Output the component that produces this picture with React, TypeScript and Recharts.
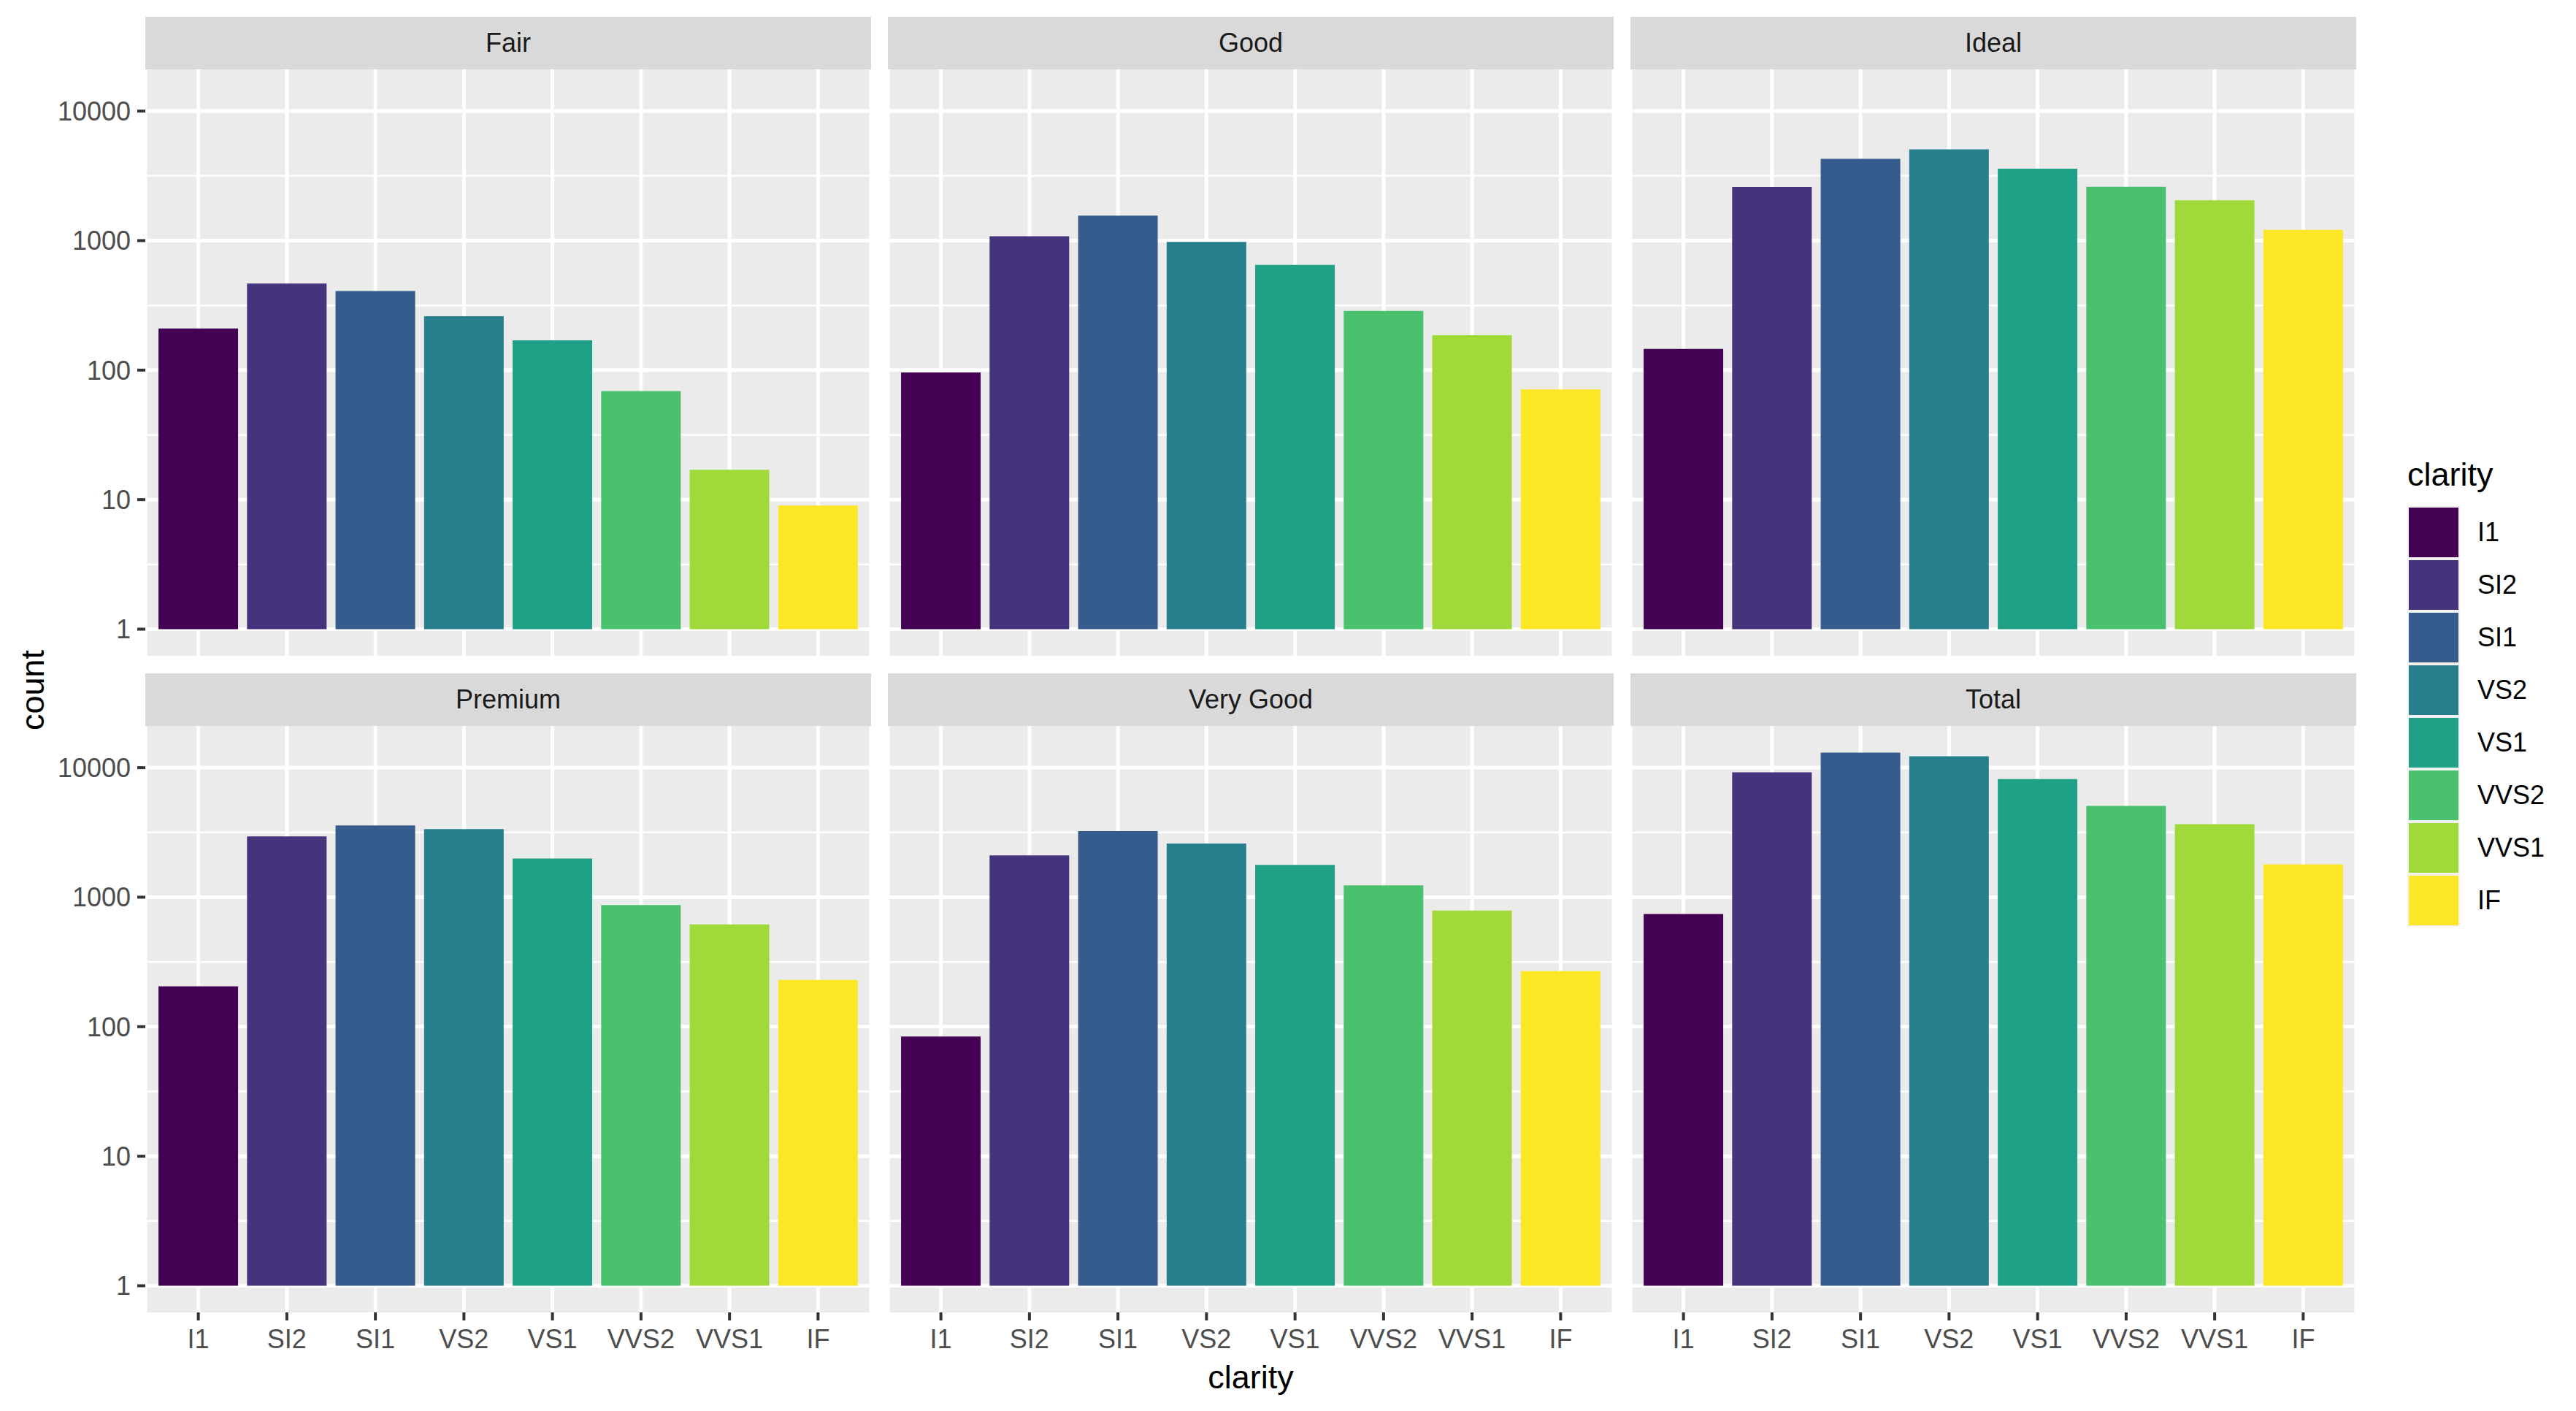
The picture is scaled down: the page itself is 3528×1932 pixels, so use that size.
import React from "react";
import { Bar, BarChart, CartesianGrid, Cell, XAxis, YAxis } from "recharts";

// diamonds: count by cut x clarity
const clarity = ["I1", "SI2", "SI1", "VS2", "VS1", "VVS2", "VVS1", "IF"];
const colors = ["#440154", "#46337E", "#365C8D", "#277F8E", "#1FA187", "#4AC16D", "#9FDA3A", "#FDE725"];

const fair = [210, 466, 408, 261, 170, 69, 17, 9];
const good = [96, 1081, 1560, 978, 648, 286, 186, 71];
const ideal = [146, 2598, 4282, 5071, 3589, 2606, 2047, 1212];
const premium = [205, 2949, 3575, 3357, 1989, 870, 616, 230];
const veryGood = [84, 2100, 3240, 2591, 1775, 1235, 789, 268];
const total = [741, 9194, 13065, 12258, 8171, 5066, 3655, 1790];

const majorTicks = [1, 10, 100, 1000, 10000];
const minorTicks = [3.162, 31.62, 316.2, 3162];
const yDomain = [0.6225, 20988];

const FONT = "'Liberation Sans', Arial, Helvetica, sans-serif";

const PANEL_W = 994;
const PANEL_H = 803;
const STRIP_H = 72;
const colX = [199, 1216, 2233];
const rowStripY = [23, 922];
const Y_AXIS_W = 199;
const X_AXIS_H = 80;

type PanelProps = {
  title: string;
  values: number[];
  col: number;
  row: number;
};

const Panel = ({ title, values, col, row }: PanelProps) => {
  const data = clarity.map((c, i) => ({ clarity: c, count: values[i] }));
  const left = col === 0;
  const bottom = row === 1;
  const panelX = colX[col];
  const panelY = rowStripY[row] + STRIP_H;

  return (
    <>
      <div
        style={{
          position: "absolute",
          left: panelX,
          top: rowStripY[row],
          width: PANEL_W,
          height: STRIP_H,
          background: "#D9D9D9",
          color: "#1A1A1A",
          fontSize: 36,
          lineHeight: STRIP_H + "px",
          textAlign: "center",
        }}
      >
        {title}
      </div>
      <div style={{ position: "absolute", left: left ? panelX - Y_AXIS_W : panelX, top: panelY }}>
        <BarChart
          width={PANEL_W + (left ? Y_AXIS_W : 0)}
          height={PANEL_H + (bottom ? X_AXIS_H : 0)}
          data={data}
          margin={{ top: 0, right: 0, bottom: 0, left: 0 }}
          barCategoryGap="5%"
        >
          <CartesianGrid
            fill="#EBEBEB"
            stroke="#FFFFFF"
            strokeWidth={2.5}
            vertical={false}
            horizontalValues={minorTicks}
          />
          <CartesianGrid stroke="#FFFFFF" strokeWidth={5} horizontalValues={majorTicks} />
          <XAxis
            dataKey="clarity"
            type="category"
            hide={!bottom}
            height={X_AXIS_H}
            padding={{ left: 12, right: 12 }}
            axisLine={false}
            tickSize={11}
            tickMargin={12}
            tickLine={{ stroke: "#333333", strokeWidth: 4 }}
            tick={{ fill: "#4D4D4D", fontSize: 36, fontFamily: FONT }}
            interval={0}
          />
          <YAxis
            type="number"
            scale="log"
            domain={yDomain}
            allowDataOverflow
            ticks={majorTicks}
            hide={!left}
            width={Y_AXIS_W}
            axisLine={false}
            tickSize={11}
            tickMargin={9}
            tickLine={{ stroke: "#333333", strokeWidth: 4 }}
            tick={{ fill: "#4D4D4D", fontSize: 36, fontFamily: FONT }}
            interval={0}
          />
          <Bar dataKey={(d: any) => [1, d.count]} isAnimationActive={false}>
            {data.map((d, i) => (
              <Cell key={d.clarity} fill={colors[i]} />
            ))}
          </Bar>
        </BarChart>
      </div>
    </>
  );
};

const Legend = () => (
  <div style={{ position: "absolute", left: 3297, top: 620 }}>
    <div style={{ fontSize: 45, color: "#000", height: 60, lineHeight: "60px" }}>clarity</div>
    <div style={{ position: "absolute", top: 73 }}>
      {clarity.map((c, i) => (
        <div key={c} style={{ position: "absolute", top: i * 72, left: 0, width: 300, height: 72 }}>
          <div
            style={{
              position: "absolute",
              left: 0,
              top: 0,
              width: 72,
              height: 72,
              background: "#F2F2F2",
            }}
          >
            <div
              style={{
                position: "absolute",
                left: 2,
                top: 2,
                width: 68,
                height: 68,
                background: colors[i],
              }}
            />
          </div>
          <div
            style={{
              position: "absolute",
              left: 96,
              top: 0,
              height: 72,
              lineHeight: "72px",
              fontSize: 36,
              color: "#000",
              whiteSpace: "nowrap",
            }}
          >
            {c}
          </div>
        </div>
      ))}
    </div>
  </div>
);

const App = () => {
  return (
    <div
      style={{
        position: "absolute",
        left: 0,
        top: 0,
        width: 3528,
        height: 1932,
        background: "#FFFFFF",
        fontFamily: FONT,
        overflow: "hidden",
      }}
    >
      <Panel title="Fair" values={fair} col={0} row={0} />
      <Panel title="Good" values={good} col={1} row={0} />
      <Panel title="Ideal" values={ideal} col={2} row={0} />
      <Panel title="Premium" values={premium} col={0} row={1} />
      <Panel title="Very Good" values={veryGood} col={1} row={1} />
      <Panel title="Total" values={total} col={2} row={1} />

      <div
        style={{
          position: "absolute",
          left: 1413,
          width: 600,
          top: 1856,
          height: 60,
          lineHeight: "60px",
          textAlign: "center",
          fontSize: 45,
          color: "#000",
        }}
      >
        clarity
      </div>
      <div
        style={{
          position: "absolute",
          left: 45 - 150,
          top: 945 - 30,
          width: 300,
          height: 60,
          lineHeight: "60px",
          textAlign: "center",
          fontSize: 45,
          color: "#000",
          transform: "rotate(-90deg)",
        }}
      >
        count
      </div>
      <Legend />
    </div>
  );
};

export default App;
